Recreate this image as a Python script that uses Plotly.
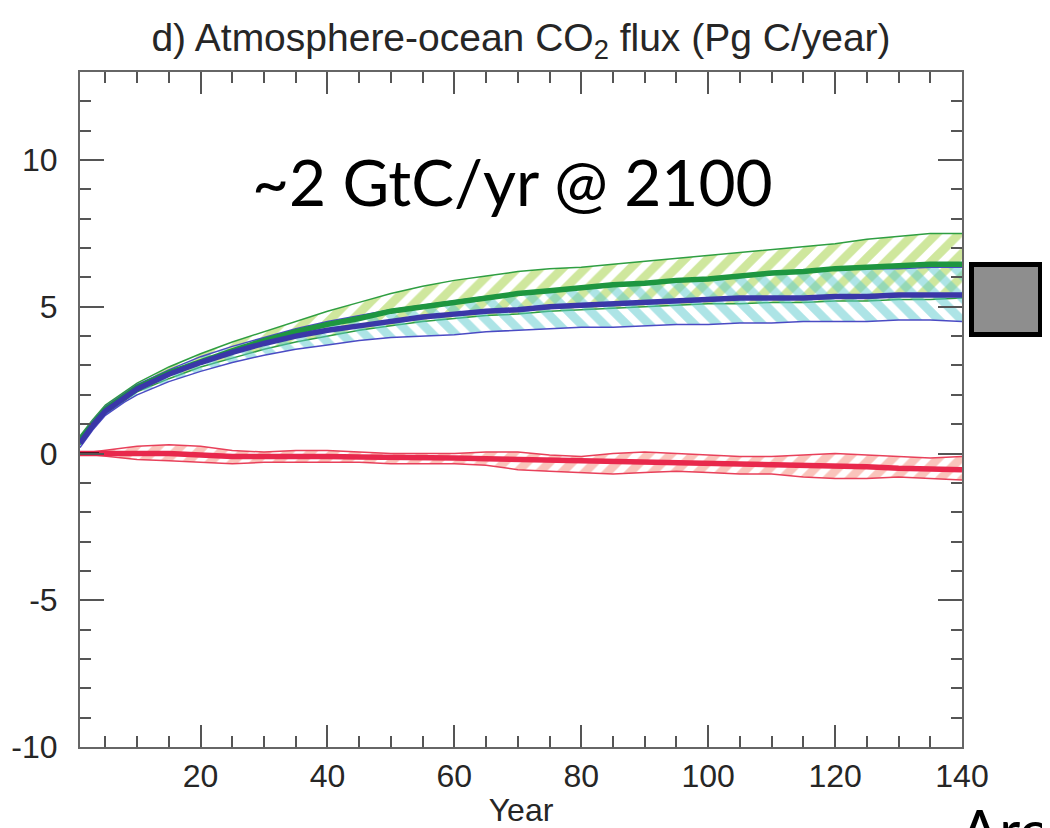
import plotly.graph_objects as go

# ---------------- data ----------------
years = [1, 3, 5, 8, 10, 15, 20, 25, 30, 35, 40, 45, 50, 55, 60, 65, 70, 75, 80, 85, 90,
         95, 100, 105, 110, 115, 120, 125, 130, 135, 140]

green_mean = [0.45, 1.0, 1.5, 1.95, 2.25, 2.75, 3.15, 3.5, 3.85, 4.15, 4.4, 4.6, 4.85, 5.0,
              5.15, 5.3, 5.45, 5.55, 5.65, 5.75, 5.8, 5.9, 5.95, 6.05, 6.15, 6.2, 6.3, 6.35,
              6.4, 6.45, 6.45]
green_upper = [0.6, 1.15, 1.65, 2.1, 2.4, 2.95, 3.4, 3.8, 4.15, 4.5, 4.85, 5.15, 5.45, 5.7,
               5.9, 6.05, 6.2, 6.3, 6.35, 6.45, 6.55, 6.65, 6.75, 6.85, 6.95, 7.05, 7.15, 7.3,
               7.4, 7.5, 7.5]
green_lower = [0.3, 0.85, 1.35, 1.8, 2.1, 2.55, 2.95, 3.25, 3.55, 3.8, 4.0, 4.2, 4.35, 4.5,
               4.6, 4.7, 4.75, 4.85, 4.9, 4.95, 5.0, 5.05, 5.1, 5.1, 5.15, 5.15, 5.2, 5.2,
               5.25, 5.25, 5.3]

blue_mean = [0.35, 0.95, 1.45, 1.9, 2.2, 2.7, 3.1, 3.45, 3.75, 4.0, 4.2, 4.35, 4.5, 4.65,
             4.75, 4.85, 4.9, 5.0, 5.05, 5.1, 5.15, 5.2, 5.25, 5.3, 5.3, 5.3, 5.35, 5.35, 5.4,
             5.4, 5.4]
blue_upper = [0.55, 1.1, 1.6, 2.05, 2.35, 2.85, 3.3, 3.65, 3.95, 4.25, 4.5, 4.7, 4.9, 5.05,
              5.2, 5.35, 5.45, 5.55, 5.6, 5.7, 5.8, 5.85, 5.9, 6.0, 6.1, 6.2, 6.25, 6.3, 6.3,
              6.35, 6.35]
blue_lower = [0.2, 0.8, 1.3, 1.75, 2.0, 2.45, 2.8, 3.1, 3.35, 3.55, 3.7, 3.85, 3.95, 4.0,
              4.05, 4.15, 4.2, 4.25, 4.3, 4.3, 4.35, 4.4, 4.4, 4.45, 4.45, 4.5, 4.5, 4.5, 4.55,
              4.55, 4.5]

red_mean = [0.0, 0.0, 0.0, 0.02, 0.02, 0.0, -0.05, -0.1, -0.1, -0.08, -0.1, -0.12, -0.12,
            -0.15, -0.15, -0.18, -0.2, -0.25, -0.25, -0.28, -0.3, -0.32, -0.35, -0.35, -0.4,
            -0.4, -0.42, -0.45, -0.5, -0.52, -0.55]
red_upper = [0.0, 0.05, 0.1, 0.2, 0.25, 0.3, 0.25, 0.1, 0.05, 0.1, 0.1, 0.05, 0.0, 0.0, 0.0,
             0.05, 0.05, -0.05, -0.1, 0.0, 0.05, 0.0, -0.05, -0.1, -0.1, -0.05, 0.0, -0.05,
             -0.1, -0.15, -0.1]
red_lower = [0.0, -0.05, -0.1, -0.15, -0.2, -0.25, -0.3, -0.35, -0.3, -0.3, -0.3, -0.3, -0.35,
             -0.35, -0.35, -0.4, -0.55, -0.6, -0.65, -0.7, -0.65, -0.6, -0.65, -0.7, -0.7,
             -0.8, -0.85, -0.85, -0.8, -0.85, -0.9]

start_years = [1, 4]
start_values = [0.0, 0.0]

y_tick_values = [-10, -5, 0, 5, 10]
y_tick_labels = ["-10", "-5", "0", "5", "10"]
x_tick_values = [20, 40, 60, 80, 100, 120, 140]
x_tick_labels = ["20", "40", "60", "80", "100", "120", "140"]

title_text = "d) Atmosphere-ocean CO<sub>2</sub> flux (Pg C/year)"
note_text = "~2 GtC/yr @ 2100"
corner_text = "Around"

# ---------------- figure ----------------
fig = go.Figure()


def band(lower, upper, edge, hatch, shape):
    fig.add_trace(go.Scatter(x=years, y=lower, mode="lines",
                             line=dict(color=edge, width=1.5), showlegend=False,
                             hoverinfo="skip"))
    fig.add_trace(go.Scatter(x=years, y=upper, mode="lines",
                             line=dict(color=edge, width=1.5), fill="tonexty",
                             fillcolor="rgba(0,0,0,0)",
                             fillpattern=dict(shape=shape, fgcolor=hatch,
                                              bgcolor="rgba(0,0,0,0)", size=16,
                                              solidity=0.55),
                             showlegend=False, hoverinfo="skip"))


band(green_lower, green_upper, "#2f9e42", "#9fcf3c", "/")
band(blue_lower, blue_upper, "#4b4bc4", "#5cc9cd", "\\")
band(red_lower, red_upper, "#e8405a", "#f58a78", "/")

fig.add_trace(go.Scatter(x=years, y=green_mean, mode="lines",
                         line=dict(color="#1e9640", width=5.5), showlegend=False))
fig.add_trace(go.Scatter(x=years, y=blue_mean, mode="lines",
                         line=dict(color="#3a37a8", width=5.5), showlegend=False))
fig.add_trace(go.Scatter(x=years, y=red_mean, mode="lines",
                         line=dict(color="#e8284c", width=5.5), showlegend=False))
fig.add_trace(go.Scatter(x=start_years, y=start_values, mode="lines",
                         line=dict(color="#5a1020", width=3), showlegend=False))

axis_common = dict(
    showline=True, linecolor="#666666", linewidth=2, mirror="ticks",
    ticks="inside", tickcolor="#555555", tickwidth=2,
    showgrid=False, zeroline=False, automargin=False,
    tickfont=dict(family="Liberation Sans, Arial, sans-serif", size=32, color="#262626"),
)

fig.update_xaxes(
    **axis_common, range=[1, 140], tickmode="array", tickvals=x_tick_values,
    ticktext=x_tick_labels, ticklen=22,
    minor=dict(tick0=0, dtick=5, ticks="inside", ticklen=11, tickwidth=2,
               tickcolor="#555555"),
    ticklabelstandoff=0,
    title=dict(text="Year", standoff=5,
               font=dict(family="Liberation Sans, Arial, sans-serif", size=32,
                         color="#262626")),
)
fig.update_yaxes(
    **axis_common, range=[-10, 13], tickmode="array", tickvals=y_tick_values,
    ticktext=y_tick_labels, ticklen=24,
    minor=dict(tick0=0, dtick=1, ticks="inside", ticklen=11, tickwidth=2,
               tickcolor="#555555"),
    ticklabelstandoff=14,
)

# the page body adds an 8 px margin, so the figure is 8 px smaller each way
fig.update_layout(
    width=1042, height=820, autosize=False,
    margin=dict(l=72, r=88, t=64, b=81),
    paper_bgcolor="white", plot_bgcolor="white",
    title=dict(text=title_text, xref="paper", x=0.5, xanchor="center",
               yref="container", y=1 - 29 / 820, yanchor="middle",
               font=dict(family="Liberation Sans, Arial, sans-serif", size=39,
                         color="#262626")),
    annotations=[
        dict(text=note_text, xref="paper", yref="paper", x=0.49, y=0.838,
             xanchor="center", yanchor="middle", showarrow=False,
             font=dict(family="Lato, sans-serif", size=64, color="black")),
        dict(text=corner_text, xref="paper", yref="paper", x=0.995, y=-0.068,
             xanchor="left", yanchor="top", showarrow=False,
             font=dict(family="Lato, sans-serif", size=58, color="black")),
    ],
    shapes=[
        dict(type="rect", xref="paper", yref="paper",
             x0=(971.5 - 80) / 882, x1=(1040.5 - 80) / 882,
             y0=(747 - 334.5) / 675, y1=(747 - 264.5) / 675,
             line=dict(color="black", width=5), fillcolor="#8e8e8e", layer="above"),
    ],
)

fig.write_html("out.html")
